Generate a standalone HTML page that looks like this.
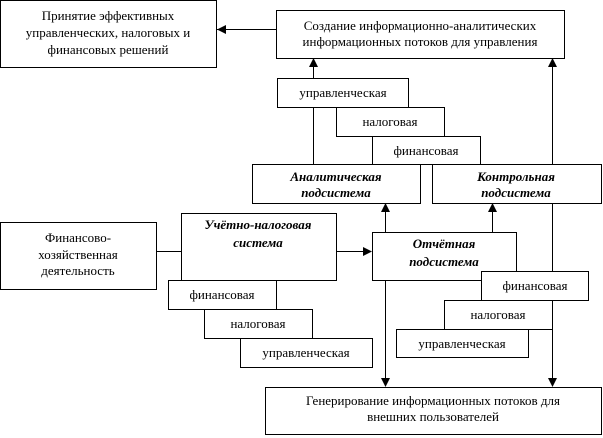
<!DOCTYPE html>
<html><head><meta charset="utf-8"><style>
html,body{margin:0;padding:0;background:#fff;}
svg{display:block;}
text{font-family:"Liberation Serif","DejaVu Serif",serif;font-size:13px;fill:#000;text-anchor:middle;}
.b{font-weight:bold;font-style:italic;}
rect{fill:#fff;stroke:#000;stroke-width:1;}
line{stroke:#000;stroke-width:1;}
path.a{fill:#000;stroke:none;}
</style></head><body>
<svg width="603" height="438" viewBox="0 0 603 438" xmlns="http://www.w3.org/2000/svg">
<!-- connectors -->
<line x1="313.5" y1="64" x2="313.5" y2="164"/>
<line x1="552.5" y1="64" x2="552.5" y2="380"/>
<line x1="385.5" y1="203" x2="385.5" y2="380"/>
<line x1="492.5" y1="203" x2="492.5" y2="232"/>
<line x1="157" y1="251.5" x2="181" y2="251.5"/>
<line x1="336" y1="251.5" x2="365" y2="251.5"/>
<line x1="217" y1="29.5" x2="276" y2="29.5"/>

<!-- top boxes -->
<rect x="0.5" y="0.5" width="216" height="67"/>
<text x="108" y="20">Принятие эффективных</text>
<text x="108" y="37">управленческих, налоговых и</text>
<text x="108" y="54">финансовых решений</text>
<rect x="276.5" y="10.5" width="288" height="48"/>
<text x="420" y="30">Создание информационно-аналитических</text>
<text x="420" y="46">информационных потоков для управления</text>

<!-- upper stack -->
<rect x="277.5" y="78.5" width="131" height="29"/>
<text x="343" y="97">управленческая</text>
<rect x="336.5" y="107.5" width="108" height="29"/>
<text x="390" y="126">налоговая</text>
<rect x="372.5" y="136.5" width="108" height="28"/>
<text x="426" y="155">финансовая</text>
<line x1="313.5" y1="107" x2="313.5" y2="164"/>
<rect x="252.5" y="164.5" width="168" height="39"/>
<text class="b" x="336" y="181">Аналитическая</text>
<text class="b" x="336" y="197">подсистема</text>
<rect x="432.5" y="164.5" width="169" height="39"/>
<text class="b" x="516" y="181">Контрольная</text>
<text class="b" x="516" y="197">подсистема</text>

<!-- middle -->
<rect x="0.5" y="222.5" width="156" height="67"/>
<text x="78" y="242">Финансово-</text>
<text x="78" y="259">хозяйственная</text>
<text x="78" y="275">деятельность</text>
<rect x="181.5" y="213.5" width="155" height="67"/>
<text class="b" x="258" y="229">Учётно-налоговая</text>
<text class="b" x="258" y="247">система</text>
<rect x="372.5" y="232.5" width="144" height="48"/>
<text class="b" x="444" y="248">Отчётная</text>
<text class="b" x="444" y="266">подсистема</text>

<!-- lower-left stack -->
<rect x="168.5" y="280.5" width="108" height="29"/>
<text x="222" y="299">финансовая</text>
<rect x="204.5" y="309.5" width="108" height="29"/>
<text x="258" y="328">налоговая</text>
<rect x="240.5" y="338.5" width="132" height="29"/>
<text x="306" y="357">управленческая</text>

<!-- lower-right stack -->
<rect x="481.5" y="271.5" width="107" height="29"/>
<text x="535" y="290">финансовая</text>
<rect x="444.5" y="300.5" width="108" height="29"/>
<text x="498" y="319">налоговая</text>
<rect x="396.5" y="329.5" width="132" height="28"/>
<text x="462" y="348">управленческая</text>

<!-- bottom box -->
<rect x="265.5" y="387.5" width="336" height="47"/>
<text x="433" y="405">Генерирование информационных потоков для</text>
<text x="433" y="421">внешних пользователей</text>

<!-- arrowheads -->
<path class="a" d="M217,29.5 L226,25 L226,34 Z"/>
<path class="a" d="M313.5,58 L309,67 L318,67 Z"/>
<path class="a" d="M552.5,58 L548,67 L557,67 Z"/>
<path class="a" d="M385.5,203 L381,212 L390,212 Z"/>
<path class="a" d="M492.5,203 L488,212 L497,212 Z"/>
<path class="a" d="M372,251.5 L363,247 L363,256 Z"/>
<path class="a" d="M385.5,387 L381,378 L390,378 Z"/>
<path class="a" d="M552.5,387 L548,378 L557,378 Z"/>
</svg>
</body></html>
